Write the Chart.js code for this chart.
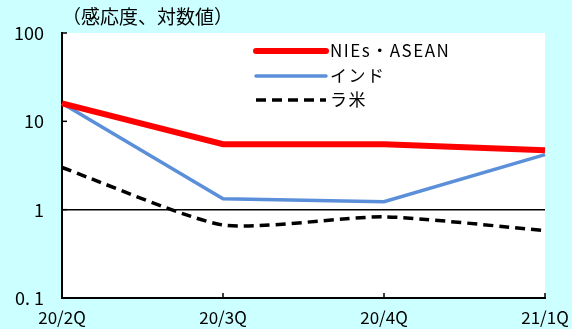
<!DOCTYPE html>
<html>
<head>
<meta charset="utf-8">
<script src="https://cdn.jsdelivr.net/npm/chart.js@4"></script>
<style>
  html, body { margin: 0; padding: 0; background: #ccffff; }
  #wrap { width: 572px; height: 329px; }
</style>
</head>
<body>
<div id="wrap"><canvas id="chart"></canvas></div>
<script>
// ===== DATA =====
const quarters = ['20/2Q', '20/3Q', '20/4Q', '21/1Q'];
const nieAsean = [16, 5.5, 5.5, 4.7];
const india    = [16, 1.33, 1.23, 4.2];
const latam    = [3.0, 0.67, 0.83, 0.58];
const yTicks   = [0.1, 1, 10, 100];
const yLabels  = ['0. 1', '1', '10', '100'];
const seriesNames = ['NIEs・ASEAN', 'インド', 'ラ米'];

const FONT = '"Noto Sans CJK JP", "Noto Sans", sans-serif';

// 背景・タイトル・凡例・目盛り線
const decor = {
  id: 'decor',
  beforeDraw(chart) {
    const { ctx, chartArea: a } = chart;
    ctx.save();
    ctx.fillStyle = '#ccffff';
    ctx.fillRect(0, 0, chart.width, chart.height);
    ctx.fillStyle = '#ffffff';
    ctx.fillRect(a.left, a.top, a.right - a.left, a.bottom - a.top);
    ctx.restore();
  },
  afterDraw(chart) {
    const { ctx, chartArea: a, scales } = chart;
    ctx.save();
    // title
    ctx.fillStyle = '#000';
    ctx.font = '19px ' + FONT;
    ctx.textBaseline = 'middle';
    ctx.fillText('（感応度、対数値）', 62, 17);

    // inner ticks on x axis
    ctx.strokeStyle = '#000';
    ctx.lineWidth = 1.5;
    quarters.forEach((q, i) => {
      if (i === 0) return;
      const x = scales.x.getPixelForValue(i);
      ctx.beginPath();
      ctx.moveTo(x, a.bottom);
      ctx.lineTo(x, a.bottom - 5);
      ctx.stroke();
    });
    // inner ticks on y axis
    yTicks.forEach(v => {
      const y = scales.y.getPixelForValue(v);
      ctx.beginPath();
      ctx.moveTo(a.left, y);
      ctx.lineTo(a.left + 5, y);
      ctx.stroke();
    });

    // legend
    const ds = chart.data.datasets;
    const lx = 256, lw = 70;
    const ly = [51, 76, 100];
    ds.forEach((d, i) => {
      ctx.strokeStyle = d.borderColor;
      ctx.lineWidth = d.borderWidth;
      ctx.lineCap = i === 2 ? 'butt' : 'round';
      ctx.setLineDash(d.borderDash || []);
      ctx.beginPath();
      ctx.moveTo(lx, ly[i]);
      ctx.lineTo(lx + lw, ly[i]);
      ctx.stroke();
      ctx.setLineDash([]);
      ctx.fillStyle = '#000';
      ctx.font = '17px ' + FONT;
      ctx.letterSpacing = '1.5px';
      ctx.textBaseline = 'middle';
      ctx.fillText(seriesNames[i], lx + lw + 4, ly[i]);
    });
    ctx.restore();
  }
};

new Chart(document.getElementById('chart'), {
  type: 'line',
  data: {
    labels: quarters,
    datasets: [
      { label: seriesNames[0], data: nieAsean, borderColor: '#ff0000', borderWidth: 6, pointRadius: 0, tension: 0 },
      { label: seriesNames[1], data: india, borderColor: '#5b8fd9', borderWidth: 3.5, pointRadius: 0, tension: 0 },
      { label: seriesNames[2], data: latam, borderColor: '#000000', borderWidth: 3.5, borderDash: [10, 6], pointRadius: 0, tension: 0.2 }
    ]
  },
  options: {
    responsive: true,
    maintainAspectRatio: false,
    animation: false,
    layout: { padding: { top: 33, right: 27, left: 0, bottom: 0 } },
    plugins: { legend: { display: false }, tooltip: { enabled: false } },
    scales: {
      x: {
        offset: false,
        grid: { display: false, drawTicks: false },
        border: { color: '#000', width: 2 },
        ticks: { color: '#000', font: { family: FONT, size: 17 }, padding: 9, maxRotation: 0, autoSkip: false },
        afterFit: s => { s.height = 31; s.paddingLeft = 0; s.paddingRight = 0; }
      },
      y: {
        type: 'logarithmic',
        min: 0.1,
        max: 100,
        afterBuildTicks: s => { s.ticks = yTicks.map(v => ({ value: v })); },
        grid: {
          drawTicks: false,
          color: c => (c.tick && c.tick.value === 1) ? '#000' : 'rgba(0,0,0,0)',
          lineWidth: 1.5
        },
        border: { color: '#000', width: 2 },
        ticks: {
          color: '#000',
          font: { family: FONT, size: 18 },
          padding: 18,
          callback: (v) => { const i = yTicks.indexOf(v); return i >= 0 ? yLabels[i] : ''; }
        },
        afterFit: s => { s.width = 62; s.paddingTop = 0; s.paddingBottom = 0; }
      }
    }
  },
  plugins: [decor]
});
</script>
</body>
</html>
